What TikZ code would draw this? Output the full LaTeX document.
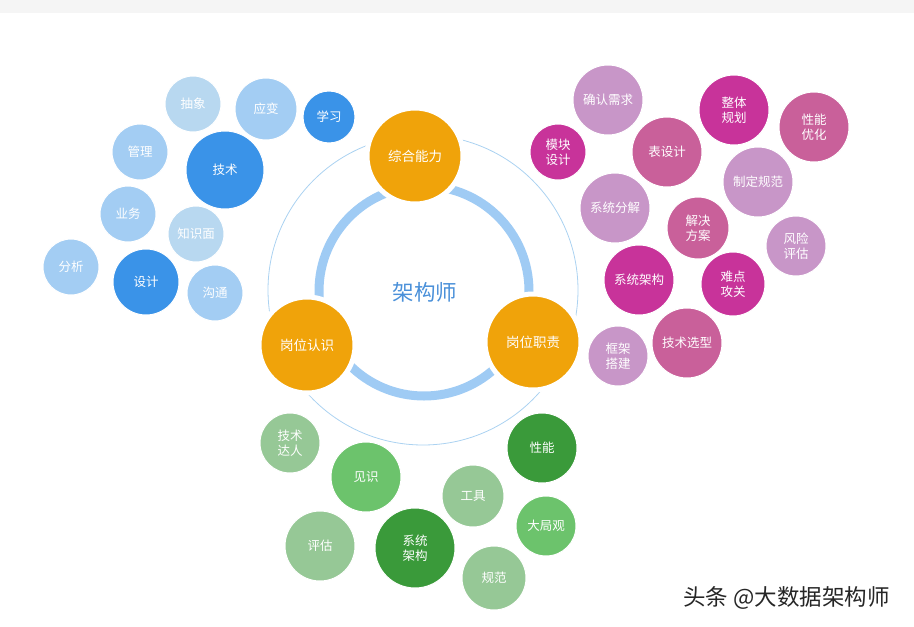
\documentclass[tikz,border=0pt]{standalone}
\usepackage{fontspec}
\newfontfamily\cjk{Noto Sans CJK SC}
\definecolor{bgband}{HTML}{F5F5F5}
\definecolor{ringblue}{HTML}{9FCBF4}
\definecolor{thinblue}{HTML}{ABD2F1}
\definecolor{orangec}{HTML}{F0A30A}
\definecolor{titleblue}{HTML}{4A90D9}
\definecolor{bdark}{HTML}{3A93E8}
\definecolor{bmid}{HTML}{A3CDF3}
\definecolor{blight}{HTML}{B8D8F0}
\definecolor{pmag}{HTML}{C8339A}
\definecolor{pmid}{HTML}{C9609A}
\definecolor{plight}{HTML}{C896C8}
\definecolor{gdark}{HTML}{3A9A3A}
\definecolor{gmid}{HTML}{6CC36C}
\definecolor{glight}{HTML}{96C896}
\tikzset{
  bub/.style 2 args={circle, inner sep=0pt, fill=#1, minimum size=#2pt, draw=white, line width=1pt,
    text=white, align=center, font=\cjk\fontsize{12.5}{15}\selectfont},
  core/.style={circle, inner sep=0pt, fill=orangec, minimum size=96pt, draw=white, line width=5pt,
    text=white, align=center, font=\cjk\fontsize{13.5}{16}\selectfont}
}
\begin{document}
\begin{tikzpicture}[x=1pt,y=-1pt]
\useasboundingbox (0,0) rectangle (914,627);
\fill[bgband] (0,0) rectangle (914,13);
% rings
\draw[thinblue, line width=0.8pt] (423,290) circle[radius=155];
\draw[ringblue, line width=9pt] (424,291) circle[radius=105];
\node[text=titleblue, font=\cjk\fontsize{21.5}{24}\selectfont] (title) at (425,292) {架构师};
% core circles
\node[core] (zh) at (415,156) {综合能力};
\node[core] (rs) at (307,345) {岗位认识};
\node[core] (zz) at (533,342) {岗位职责};
% blue cluster
\node[bub={blight}{56}] (b1) at (193,104) {抽象};
\node[bub={bmid}{62}] (b2) at (266,109) {应变};
\node[bub={bdark}{52}] (b3) at (329,117) {学习};
\node[bub={bmid}{56}] (b4) at (140,152) {管理};
\node[bub={bdark}{78}] (b5) at (225,170) {技术};
\node[bub={bmid}{56}] (b6) at (128,214) {业务};
\node[bub={blight}{56}] (b7) at (196,234) {知识面};
\node[bub={bmid}{56}] (b8) at (71,267) {分析};
\node[bub={bdark}{66}] (b9) at (146,282) {设计};
\node[bub={bmid}{56}] (b10) at (215,293) {沟通};
% pink cluster
\node[bub={plight}{70}] (p1) at (608,100) {确认需求};
\node[bub={pmag}{70}] (p2) at (734,110) {整体\\规划};
\node[bub={pmid}{70}] (p3) at (814,127) {性能\\优化};
\node[bub={pmag}{56}] (p4) at (558,152) {模块\\设计};
\node[bub={pmid}{70}] (p5) at (667,152) {表设计};
\node[bub={plight}{70}] (p6) at (758,182) {制定规范};
\node[bub={plight}{70}] (p7) at (615,208) {系统分解};
\node[bub={pmid}{62}] (p8) at (698,228) {解决\\方案};
\node[bub={plight}{60}] (p9) at (796,246) {风险\\评估};
\node[bub={pmag}{70}] (p10) at (639,280) {系统架构};
\node[bub={pmag}{64}] (p11) at (733,284) {难点\\攻关};
\node[bub={plight}{60}] (p12) at (618,356) {框架\\搭建};
\node[bub={pmid}{70}] (p13) at (687,343) {技术选型};
% green cluster
\node[bub={glight}{60}] (g1) at (290,443) {技术\\达人};
\node[bub={gdark}{70}] (g2) at (542,448) {性能};
\node[bub={gmid}{70}] (g3) at (366,477) {见识};
\node[bub={glight}{62}] (g4) at (473,496) {工具};
\node[bub={gmid}{60}] (g5) at (546,526) {大局观};
\node[bub={glight}{70}] (g6) at (320,546) {评估};
\node[bub={gdark}{80}] (g7) at (415,548) {系统\\架构};
\node[bub={glight}{64}] (g8) at (494,578) {规范};
% watermark
\node[anchor=west, text=black!85, font=\cjk\fontsize{22.5}{24}\selectfont, inner sep=0pt] (wm) at (683,598) {头条 @大数据架构师};
\end{tikzpicture}
\end{document}
